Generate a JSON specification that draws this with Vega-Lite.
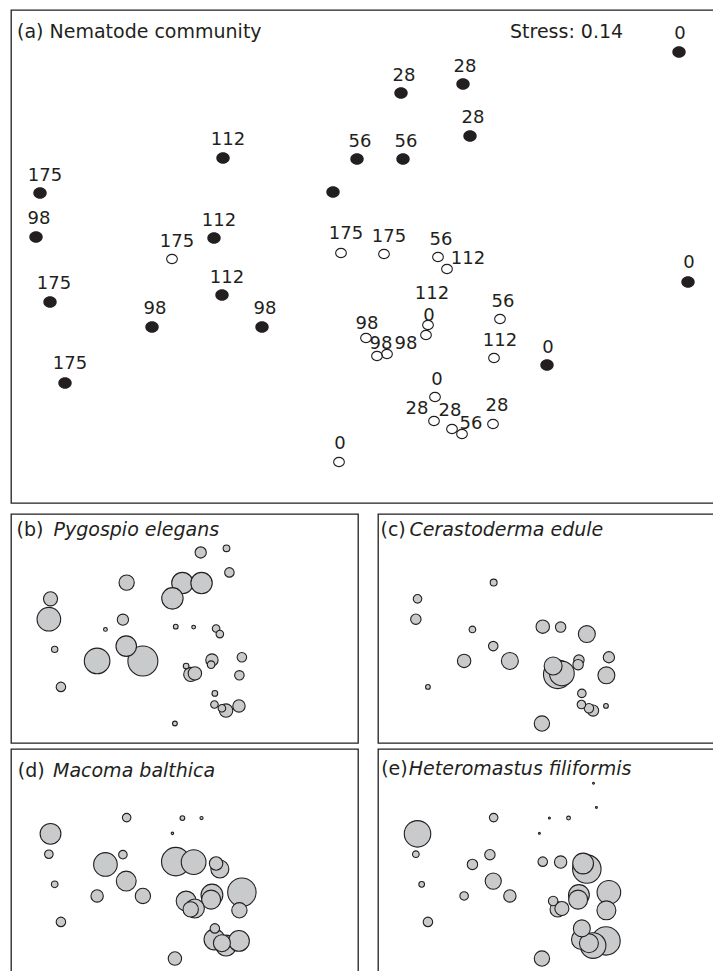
{
  "$schema": "https://vega.github.io/schema/vega-lite/v6.json",
  "padding": {"left": 10, "top": 9, "right": 0, "bottom": 0},
  "background": "white",
  "config": {
    "view": {"stroke": "#231f20", "strokeWidth": 1.3},
    "axis": {"disable": true},
    "legend": {"disable": true},
    "font": "DejaVu Sans",
    "text": {"font": "DejaVu Sans", "color": "#231f20"}
  },
  "datasets": {
    "pts": [
      {"id": 1, "day": 0, "grp": "closed", "lab": "0", "x": 3.18, "y": 1.99, "lx": 3.19, "ly": 2.17, "pyg": 0, "cer": 0, "mac": 0, "het": 0},
      {"id": 2, "day": 28, "grp": "closed", "lab": "28", "x": 0.40, "y": 1.58, "lx": 0.43, "ly": 1.75, "pyg": 14, "cer": 0, "mac": 0, "het": 0},
      {"id": 3, "day": 28, "grp": "closed", "lab": "28", "x": 1.02, "y": 1.67, "lx": 1.04, "ly": 1.84, "pyg": 5, "cer": 0, "mac": 0, "het": 0.4},
      {"id": 4, "day": 28, "grp": "closed", "lab": "28", "x": 1.09, "y": 1.15, "lx": 1.12, "ly": 1.33, "pyg": 10, "cer": 0, "mac": 0, "het": 0.4},
      {"id": 5, "day": 56, "grp": "closed", "lab": "56", "x": -0.04, "y": 0.92, "lx": -0.01, "ly": 1.09, "pyg": 51, "cer": 0, "mac": 2.5, "het": 0.4},
      {"id": 6, "day": 56, "grp": "closed", "lab": "56", "x": 0.42, "y": 0.92, "lx": 0.45, "ly": 1.09, "pyg": 51, "cer": 0, "mac": 1.1, "het": 1.6},
      {"id": 7, "day": 56, "grp": "closed", "lab": "", "x": -0.28, "y": 0.59, "lx": -0.28, "ly": 0.59, "pyg": 51, "cer": 0, "mac": 0.7, "het": 0.4},
      {"id": 8, "day": 112, "grp": "closed", "lab": "112", "x": -1.38, "y": 0.93, "lx": -1.33, "ly": 1.11, "pyg": 26, "cer": 5.3, "mac": 8.1, "het": 8.1},
      {"id": 9, "day": 175, "grp": "closed", "lab": "175", "x": -3.21, "y": 0.58, "lx": -3.16, "ly": 0.75, "pyg": 22, "cer": 8.1, "mac": 48, "het": 78},
      {"id": 10, "day": 98, "grp": "closed", "lab": "98", "x": -3.25, "y": 0.14, "lx": -3.22, "ly": 0.32, "pyg": 62, "cer": 12, "mac": 8.1, "het": 4.9},
      {"id": 11, "day": 112, "grp": "closed", "lab": "112", "x": -1.47, "y": 0.13, "lx": -1.42, "ly": 0.30, "pyg": 14, "cer": 0, "mac": 8.1, "het": 12},
      {"id": 12, "day": 175, "grp": "closed", "lab": "175", "x": -3.11, "y": -0.51, "lx": -3.07, "ly": -0.33, "pyg": 4.5, "cer": 0, "mac": 4.9, "het": 3.6},
      {"id": 13, "day": 112, "grp": "closed", "lab": "112", "x": -1.39, "y": -0.44, "lx": -1.34, "ly": -0.27, "pyg": 47, "cer": 10, "mac": 44, "het": 29},
      {"id": 14, "day": 98, "grp": "closed", "lab": "98", "x": -2.09, "y": -0.76, "lx": -2.06, "ly": -0.58, "pyg": 73, "cer": 20, "mac": 17, "het": 8.1},
      {"id": 15, "day": 98, "grp": "closed", "lab": "98", "x": -0.99, "y": -0.76, "lx": -0.96, "ly": -0.58, "pyg": 100, "cer": 32, "mac": 26, "het": 17},
      {"id": 16, "day": 175, "grp": "closed", "lab": "175", "x": -2.96, "y": -1.32, "lx": -2.91, "ly": -1.13, "pyg": 10, "cer": 2.5, "mac": 10, "het": 10},
      {"id": 17, "day": 0, "grp": "closed", "lab": "0", "x": 3.27, "y": -0.31, "lx": 3.28, "ly": -0.12, "pyg": 0, "cer": 0, "mac": 0, "het": 0},
      {"id": 18, "day": 0, "grp": "closed", "lab": "0", "x": 1.86, "y": -1.14, "lx": 1.87, "ly": -0.97, "pyg": 0, "cer": 0, "mac": 0, "het": 0},
      {"id": 19, "day": 175, "grp": "open", "lab": "175", "x": -1.89, "y": -0.08, "lx": -1.84, "ly": 0.09, "pyg": 1.6, "cer": 4.9, "mac": 62, "het": 12},
      {"id": 20, "day": 175, "grp": "open", "lab": "175", "x": -0.20, "y": -0.02, "lx": -0.15, "ly": 0.17, "pyg": 2.5, "cer": 20, "mac": 90, "het": 10},
      {"id": 21, "day": 175, "grp": "open", "lab": "175", "x": 0.23, "y": -0.03, "lx": 0.28, "ly": 0.14, "pyg": 1.6, "cer": 12, "mac": 68, "het": 17},
      {"id": 22, "day": 56, "grp": "open", "lab": "56", "x": 0.77, "y": -0.06, "lx": 0.80, "ly": 0.11, "pyg": 6.4, "cer": 0, "mac": 20, "het": 48},
      {"id": 23, "day": 112, "grp": "open", "lab": "112", "x": 0.86, "y": -0.18, "lx": 1.07, "ly": -0.08, "pyg": 6.4, "cer": 32, "mac": 36, "het": 90},
      {"id": 24, "day": 112, "grp": "open", "lab": "112", "x": 0.67, "y": -0.74, "lx": 0.71, "ly": -0.43, "pyg": 17, "cer": 12, "mac": 53, "het": 48},
      {"id": 25, "day": 0, "grp": "open", "lab": "0", "x": 0.65, "y": -0.84, "lx": 0.68, "ly": -0.645, "pyg": 6.4, "cer": 12, "mac": 40, "het": 40},
      {"id": 26, "day": 56, "grp": "open", "lab": "56", "x": 1.39, "y": -0.68, "lx": 1.42, "ly": -0.51, "pyg": 10, "cer": 14, "mac": 90, "het": 62},
      {"id": 27, "day": 98, "grp": "open", "lab": "98", "x": 0.05, "y": -0.87, "lx": 0.06, "ly": -0.73, "pyg": 3.6, "cer": 36, "mac": 44, "het": 10},
      {"id": 28, "day": 98, "grp": "open", "lab": "98", "x": 0.16, "y": -1.05, "lx": 0.20, "ly": -0.93, "pyg": 22, "cer": 90, "mac": 26, "het": 26},
      {"id": 29, "day": 98, "grp": "open", "lab": "98", "x": 0.26, "y": -1.03, "lx": 0.45, "ly": -0.93, "pyg": 20, "cer": 68, "mac": 40, "het": 22},
      {"id": 30, "day": 112, "grp": "open", "lab": "112", "x": 1.33, "y": -1.07, "lx": 1.39, "ly": -0.90, "pyg": 10, "cer": 32, "mac": 26, "het": 40},
      {"id": 31, "day": 0, "grp": "open", "lab": "0", "x": 0.74, "y": -1.46, "lx": 0.76, "ly": -1.29, "pyg": 3.6, "cer": 8.1, "mac": 10, "het": 32},
      {"id": 32, "day": 28, "grp": "open", "lab": "28", "x": 0.73, "y": -1.70, "lx": 0.56, "ly": -1.58, "pyg": 6.4, "cer": 8.1, "mac": 48, "het": 44},
      {"id": 33, "day": 28, "grp": "open", "lab": "28", "x": 0.91, "y": -1.78, "lx": 0.89, "ly": -1.60, "pyg": 6.4, "cer": 10, "mac": 32, "het": 40},
      {"id": 34, "day": 56, "grp": "open", "lab": "56", "x": 1.01, "y": -1.83, "lx": 1.10, "ly": -1.73, "pyg": 20, "cer": 14, "mac": 48, "het": 73},
      {"id": 35, "day": 28, "grp": "open", "lab": "28", "x": 1.32, "y": -1.73, "lx": 1.36, "ly": -1.55, "pyg": 17, "cer": 2.5, "mac": 48, "het": 90},
      {"id": 36, "day": 0, "grp": "open", "lab": "0", "x": -0.22, "y": -2.11, "lx": -0.21, "ly": -1.93, "pyg": 2.5, "cer": 26, "mac": 20, "het": 26}
    ]
  },
  "spacing": 9,
  "vconcat": [
    {
      "width": 706,
      "height": 493,
      "layer": [
        {
          "data": {"name": "pts"},
          "transform": [{"filter": "datum.grp == 'closed'"}],
          "mark": {"type": "point", "shape": "M-1,0A1,0.86,0,1,1,1,0A1,0.86,0,1,1,-1,0Z", "filled": true, "size": 180, "fill": "#231f20", "strokeWidth": 0, "opacity": 1},
          "encoding": {
            "x": {"field": "x", "type": "quantitative", "scale": {"domain": [-3.5, 3.56], "nice": false, "zero": false}},
            "y": {"field": "y", "type": "quantitative", "scale": {"domain": [-2.52, 2.41], "nice": false, "zero": false}}
          }
        },
        {
          "data": {"name": "pts"},
          "transform": [{"filter": "datum.grp == 'open'"}],
          "mark": {"type": "point", "shape": "M-1,0A1,0.86,0,1,1,1,0A1,0.86,0,1,1,-1,0Z", "filled": false, "size": 115, "stroke": "#231f20", "strokeWidth": 1.1, "opacity": 1},
          "encoding": {
            "x": {"field": "x", "type": "quantitative", "scale": {"domain": [-3.5, 3.56], "nice": false, "zero": false}},
            "y": {"field": "y", "type": "quantitative", "scale": {"domain": [-2.52, 2.41], "nice": false, "zero": false}}
          }
        },
        {
          "data": {"name": "pts"},
          "mark": {"type": "text", "fontSize": 18, "font": "DejaVu Sans", "align": "center", "baseline": "middle", "fill": "#231f20"},
          "encoding": {
            "x": {"field": "lx", "type": "quantitative", "scale": {"domain": [-3.5, 3.56], "nice": false, "zero": false}},
            "y": {"field": "ly", "type": "quantitative", "scale": {"domain": [-2.52, 2.41], "nice": false, "zero": false}},
            "text": {"field": "lab"}
          }
        },
        {
          "data": {"values": [{}]},
          "mark": {"type": "text", "fontSize": 19, "font": "DejaVu Sans", "align": "left", "baseline": "alphabetic", "fill": "#231f20"},
          "encoding": {
            "x": {"datum": -3.44, "type": "quantitative", "scale": {"domain": [-3.5, 3.56], "nice": false, "zero": false}},
            "y": {"datum": 2.133, "type": "quantitative", "scale": {"domain": [-2.52, 2.41], "nice": false, "zero": false}},
            "text": {"value": "(a) Nematode community"}
          }
        },
        {
          "data": {"values": [{}]},
          "mark": {"type": "text", "fontSize": 19, "font": "DejaVu Sans", "align": "left", "baseline": "alphabetic", "fill": "#231f20"},
          "encoding": {
            "x": {"datum": 1.49, "type": "quantitative", "scale": {"domain": [-3.5, 3.56], "nice": false, "zero": false}},
            "y": {"datum": 2.133, "type": "quantitative", "scale": {"domain": [-2.52, 2.41], "nice": false, "zero": false}},
            "text": {"value": "Stress: 0.14"}
          }
        }
      ]
    },
    {
      "spacing": 4,
      "vconcat": [
        {
          "spacing": 20,
          "bounds": "flush",
          "hconcat": [
            {
              "width": 347,
              "height": 229,
              "layer": [
                {
                  "data": {"name": "pts"},
                  "transform": [{"filter": "datum.pyg > 0"}],
                  "mark": {"type": "circle", "fill": "#c9cacc", "stroke": "#231f20", "strokeWidth": 1.1, "opacity": 1, "clip": true},
                  "encoding": {
                    "x": {"field": "x", "type": "quantitative", "scale": {"domain": [-4.16, 4.181], "nice": false, "zero": false}},
                    "y": {"field": "y", "type": "quantitative", "scale": {"domain": [-2.53, 2.41], "nice": false, "zero": false}},
                    "size": {"field": "pyg", "type": "quantitative", "scale": {"type": "linear", "domain": [0, 100], "range": [0, 900]}},
                    "order": {"field": "pyg", "sort": "descending"}
                  }
                },
                {
                  "data": {"values": [{}]},
                  "mark": {"type": "text", "fontSize": 19, "font": "DejaVu Sans", "align": "left", "baseline": "alphabetic", "fill": "#231f20"},
                  "encoding": {
                    "x": {"datum": -4.028, "type": "quantitative", "scale": {"domain": [-4.16, 4.181], "nice": false, "zero": false}},
                    "y": {"datum": 1.944, "type": "quantitative", "scale": {"domain": [-2.53, 2.41], "nice": false, "zero": false}},
                    "text": {"value": "(b)"}
                  }
                },
                {
                  "data": {"values": [{}]},
                  "mark": {"type": "text", "fontSize": 19, "font": "DejaVu Sans", "fontStyle": "italic", "align": "left", "baseline": "alphabetic", "fill": "#231f20"},
                  "encoding": {
                    "x": {"datum": -3.138, "type": "quantitative", "scale": {"domain": [-4.16, 4.181], "nice": false, "zero": false}},
                    "y": {"datum": 1.944, "type": "quantitative", "scale": {"domain": [-2.53, 2.41], "nice": false, "zero": false}},
                    "text": {"value": "Pygospio elegans"}
                  }
                }
              ]
            },
            {
              "width": 347,
              "height": 229,
              "layer": [
                {
                  "data": {"name": "pts"},
                  "transform": [{"filter": "datum.cer > 0"}],
                  "mark": {"type": "circle", "fill": "#c9cacc", "stroke": "#231f20", "strokeWidth": 1.1, "opacity": 1, "clip": true},
                  "encoding": {
                    "x": {"field": "x", "type": "quantitative", "scale": {"domain": [-4.16, 4.181], "nice": false, "zero": false}},
                    "y": {"field": "y", "type": "quantitative", "scale": {"domain": [-2.53, 2.41], "nice": false, "zero": false}},
                    "size": {"field": "cer", "type": "quantitative", "scale": {"type": "linear", "domain": [0, 100], "range": [0, 900]}},
                    "order": {"field": "cer", "sort": "descending"}
                  }
                },
                {
                  "data": {"values": [{}]},
                  "mark": {"type": "text", "fontSize": 19, "font": "DejaVu Sans", "align": "left", "baseline": "alphabetic", "fill": "#231f20"},
                  "encoding": {
                    "x": {"datum": -4.1, "type": "quantitative", "scale": {"domain": [-4.16, 4.181], "nice": false, "zero": false}},
                    "y": {"datum": 1.93, "type": "quantitative", "scale": {"domain": [-2.53, 2.41], "nice": false, "zero": false}},
                    "text": {"value": "(c)"}
                  }
                },
                {
                  "data": {"values": [{}]},
                  "mark": {"type": "text", "fontSize": 19, "font": "DejaVu Sans", "fontStyle": "italic", "align": "left", "baseline": "alphabetic", "fill": "#231f20"},
                  "encoding": {
                    "x": {"datum": -3.405, "type": "quantitative", "scale": {"domain": [-4.16, 4.181], "nice": false, "zero": false}},
                    "y": {"datum": 1.93, "type": "quantitative", "scale": {"domain": [-2.53, 2.41], "nice": false, "zero": false}},
                    "text": {"value": "Cerastoderma edule"}
                  }
                }
              ]
            }
          ]
        },
        {
          "spacing": 20,
          "bounds": "flush",
          "hconcat": [
            {
              "width": 347,
              "height": 229,
              "layer": [
                {
                  "data": {"name": "pts"},
                  "transform": [{"filter": "datum.mac > 0"}],
                  "mark": {"type": "circle", "fill": "#c9cacc", "stroke": "#231f20", "strokeWidth": 1.1, "opacity": 1, "clip": true},
                  "encoding": {
                    "x": {"field": "x", "type": "quantitative", "scale": {"domain": [-4.16, 4.181], "nice": false, "zero": false}},
                    "y": {"field": "y", "type": "quantitative", "scale": {"domain": [-2.53, 2.41], "nice": false, "zero": false}},
                    "size": {"field": "mac", "type": "quantitative", "scale": {"type": "linear", "domain": [0, 100], "range": [0, 900]}},
                    "order": {"field": "mac", "sort": "descending"}
                  }
                },
                {
                  "data": {"values": [{}]},
                  "mark": {"type": "text", "fontSize": 19, "font": "DejaVu Sans", "align": "left", "baseline": "alphabetic", "fill": "#231f20"},
                  "encoding": {
                    "x": {"datum": -3.997, "type": "quantitative", "scale": {"domain": [-4.16, 4.181], "nice": false, "zero": false}},
                    "y": {"datum": 1.8, "type": "quantitative", "scale": {"domain": [-2.53, 2.41], "nice": false, "zero": false}},
                    "text": {"value": "(d)"}
                  }
                },
                {
                  "data": {"values": [{}]},
                  "mark": {"type": "text", "fontSize": 19, "font": "DejaVu Sans", "fontStyle": "italic", "align": "left", "baseline": "alphabetic", "fill": "#231f20"},
                  "encoding": {
                    "x": {"datum": -3.15, "type": "quantitative", "scale": {"domain": [-4.16, 4.181], "nice": false, "zero": false}},
                    "y": {"datum": 1.8, "type": "quantitative", "scale": {"domain": [-2.53, 2.41], "nice": false, "zero": false}},
                    "text": {"value": "Macoma balthica"}
                  }
                }
              ]
            },
            {
              "width": 347,
              "height": 229,
              "layer": [
                {
                  "data": {"name": "pts"},
                  "transform": [{"filter": "datum.het > 0"}],
                  "mark": {"type": "circle", "fill": "#c9cacc", "stroke": "#231f20", "strokeWidth": 1.1, "opacity": 1, "clip": true},
                  "encoding": {
                    "x": {"field": "x", "type": "quantitative", "scale": {"domain": [-4.16, 4.181], "nice": false, "zero": false}},
                    "y": {"field": "y", "type": "quantitative", "scale": {"domain": [-2.53, 2.41], "nice": false, "zero": false}},
                    "size": {"field": "het", "type": "quantitative", "scale": {"type": "linear", "domain": [0, 100], "range": [0, 900]}},
                    "order": {"field": "het", "sort": "descending"}
                  }
                },
                {
                  "data": {"values": [{}]},
                  "mark": {"type": "text", "fontSize": 19, "font": "DejaVu Sans", "align": "left", "baseline": "alphabetic", "fill": "#231f20"},
                  "encoding": {
                    "x": {"datum": -4.083, "type": "quantitative", "scale": {"domain": [-4.16, 4.181], "nice": false, "zero": false}},
                    "y": {"datum": 1.856, "type": "quantitative", "scale": {"domain": [-2.53, 2.41], "nice": false, "zero": false}},
                    "text": {"value": "(e)"}
                  }
                },
                {
                  "data": {"values": [{}]},
                  "mark": {"type": "text", "fontSize": 19, "font": "DejaVu Sans", "fontStyle": "italic", "align": "left", "baseline": "alphabetic", "fill": "#231f20"},
                  "encoding": {
                    "x": {"datum": -3.42, "type": "quantitative", "scale": {"domain": [-4.16, 4.181], "nice": false, "zero": false}},
                    "y": {"datum": 1.856, "type": "quantitative", "scale": {"domain": [-2.53, 2.41], "nice": false, "zero": false}},
                    "text": {"value": "Heteromastus filiformis"}
                  }
                }
              ]
            }
          ]
        }
      ]
    }
  ]
}
